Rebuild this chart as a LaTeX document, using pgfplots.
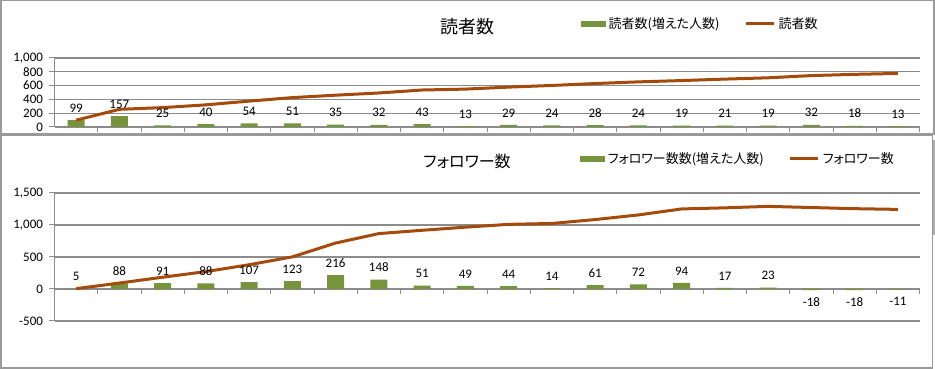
\documentclass[border=0pt]{standalone}
\usepackage{pgfplots}
\pgfplotsset{compat=1.18}
\usepackage{fontspec}
\setmainfont{Carlito}
\newfontfamily\jp[RawFeature=+palt]{Noto Sans CJK JP}
\definecolor{barC}{HTML}{77933C}
\definecolor{lineC}{HTML}{A44A0A}
\definecolor{gridC}{HTML}{8C8C8C}
\definecolor{frameC}{HTML}{9A9A9A}
\pgfplotsset{
  chartbase/.style={
    scale only axis,
    width=865pt,
    xmin=-0.5, xmax=19.5,
    axis x line=middle,
    axis y line=left,
    axis line style={-, draw=gridC, line width=1.1pt},
    xtick={-0.5,0.5,...,19.5},
    xticklabels={},
    x tick style={draw=gridC, line width=1pt},
    y tick style={draw=gridC, line width=1pt},
    tick align=outside,
    major tick length=5pt,
    ymajorgrids,
    grid style={draw=gridC, line width=1.1pt},
    /pgf/number format/assume math mode=true,
    /pgf/number format/1000 sep={,},
    tick label style={font=\fontsize{13}{15}\selectfont, black},
    yticklabel style={xshift=-3pt},
    clip=false,
    legend style={draw=none, fill=none, inner sep=0pt, legend columns=2,
      font=\fontsize{13}{15}\selectfont\jp,
      nodes={inner sep=3pt, anchor=west},
      /tikz/every even column/.append style={column sep=22pt}},
    legend cell align=left,
  },
  barplot/.style={ybar, bar width=17pt, fill=barC, draw=none,
    nodes near coords,
    every node near coord/.append style={font=\fontsize{13}{15}\selectfont, black, inner ysep=7.5pt, inner xsep=0pt},
    legend image code/.code={\fill[barC] (0pt,-3pt) rectangle (25pt,3pt);}},
  lineplot/.style={draw=lineC, line width=3pt, line join=round, mark=none,
    legend image code/.code={\draw[lineC, line width=3pt] (0pt,0pt) -- (28pt,0pt);}},
}
\begin{document}
\begin{tikzpicture}
\useasboundingbox (0pt,0pt) rectangle (935pt,369pt);
% frames
\draw[frameC, line width=1.5pt] (0.75pt,235pt) rectangle (934.2pt,368.25pt);
\draw[frameC, line width=1.5pt] (0.75pt,0.75pt) rectangle (932.5pt,233.5pt);
\fill[gray!65] (932.5pt,134pt) rectangle (935pt,229pt);

% top chart
\begin{axis}[chartbase,
  at={(54.5pt,242pt)}, anchor=south west,
  height=69pt,
  ymin=0, ymax=1000, ytick={0,200,...,1000},
  legend style={at={(0.608,1.493)}, anchor=west},
]
\addplot[barplot] coordinates {
(0,99) (1,157) (2,25) (3,40) (4,54) (5,51) (6,35) (7,32) (8,43) (9,13)
(10,29) (11,24) (12,28) (13,24) (14,19) (15,21) (16,19) (17,32) (18,18) (19,13)};
\addlegendentry{読者数(増えた人数)}
\addplot[lineplot] coordinates {
(0,99) (1,256) (2,281) (3,321) (4,375) (5,426) (6,461) (7,493) (8,536) (9,549)
(10,578) (11,602) (12,630) (13,654) (14,673) (15,694) (16,713) (17,745) (18,763) (19,776)};
\addlegendentry{読者数}
\end{axis}
\node[font=\fontsize{18}{20}\selectfont\jp] at (467pt,342pt) {読者数};

% bottom chart
\begin{axis}[chartbase,
  at={(54.5pt,48pt)}, anchor=south west,
  height=128pt,
  ymin=-500, ymax=1500, ytick={-500,0,500,1000,1500},
  legend style={at={(0.607,1.266)}, anchor=west},
]
\addplot[barplot] coordinates {
(0,5) (1,88) (2,91) (3,88) (4,107) (5,123) (6,216) (7,148) (8,51) (9,49)
(10,44) (11,14) (12,61) (13,72) (14,94) (15,17) (16,23) (17,-18) (18,-18) (19,-11)};
\addlegendentry{フォロワー数数(増えた人数)}
\addplot[lineplot] coordinates {
(0,5) (1,93) (2,184) (3,272) (4,379) (5,502) (6,718) (7,866) (8,917) (9,966)
(10,1010) (11,1024) (12,1085) (13,1157) (14,1251) (15,1268) (16,1291) (17,1273) (18,1255) (19,1244)};
\addlegendentry{フォロワー数}
\end{axis}
\node[font=\fontsize{16}{18}\selectfont\jp] at (467pt,208pt) {フォロワー数};
\end{tikzpicture}
\end{document}
